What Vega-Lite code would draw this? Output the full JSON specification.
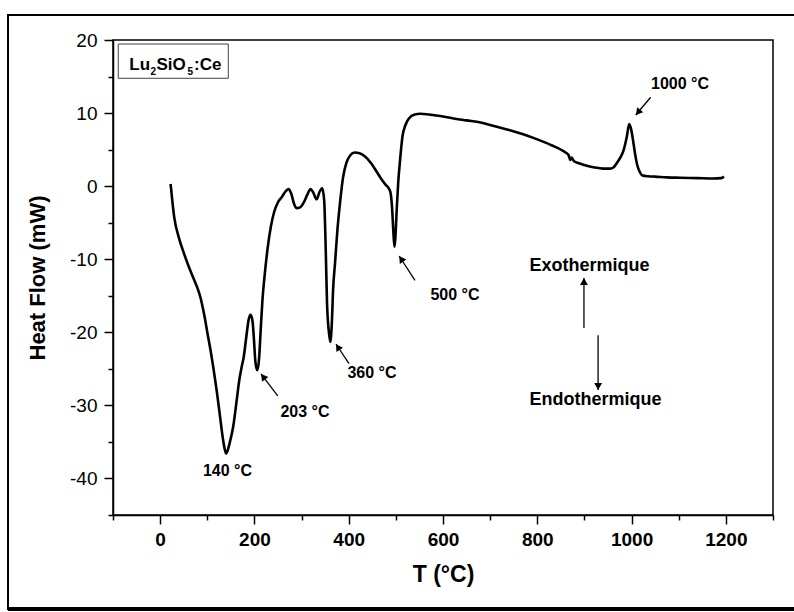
{
  "$schema": "https://vega.github.io/schema/vega-lite/v6.json",
  "width": 660,
  "height": 475,
  "autosize": {"type": "none"},
  "padding": {"left": 113, "top": 40, "right": 21, "bottom": 97},
  "background": "white",
  "config": {"view": {"stroke": "black", "strokeWidth": 1.5}, "font": "Liberation Sans"},
  "resolve": {"axis": {"x": "independent", "y": "independent"}},
  "datasets": {
    "curve": [
      {"T": 22, "H": 0.3}, {"T": 23, "H": -0.2}, {"T": 25, "H": -1.5}, {"T": 30, "H": -4.3}, {"T": 40, "H": -7.1},
      {"T": 50, "H": -9.1}, {"T": 60, "H": -10.9}, {"T": 70, "H": -12.5}, {"T": 80, "H": -14.1}, {"T": 85, "H": -15.1},
      {"T": 90, "H": -16.5}, {"T": 95, "H": -18.1}, {"T": 100, "H": -20}, {"T": 107, "H": -22.5}, {"T": 113, "H": -24.9}, {"T": 120, "H": -28},
      {"T": 127, "H": -31.5}, {"T": 133, "H": -34.5}, {"T": 137, "H": -36}, {"T": 140, "H": -36.6}, {"T": 143, "H": -36.2},
      {"T": 148, "H": -35}, {"T": 155, "H": -32.9}, {"T": 162, "H": -29.5}, {"T": 168, "H": -26.5}, {"T": 173, "H": -24.7},
      {"T": 177, "H": -23.5}, {"T": 183, "H": -20.5}, {"T": 188, "H": -18.2}, {"T": 192, "H": -17.6}, {"T": 196, "H": -18.5},
      {"T": 199, "H": -21}, {"T": 202, "H": -24}, {"T": 206, "H": -25.2}, {"T": 210, "H": -23.5}, {"T": 213, "H": -20},
      {"T": 217, "H": -15.6}, {"T": 222, "H": -12}, {"T": 228, "H": -8.5}, {"T": 235, "H": -5.5}, {"T": 242, "H": -3.5},
      {"T": 250, "H": -2.2}, {"T": 258, "H": -1.5}, {"T": 265, "H": -0.8}, {"T": 272, "H": -0.4}, {"T": 278, "H": -1},
      {"T": 284, "H": -2.4}, {"T": 290, "H": -3}, {"T": 297, "H": -2.9}, {"T": 305, "H": -2.2}, {"T": 312, "H": -1.2},
      {"T": 319, "H": -0.4}, {"T": 325, "H": -0.9}, {"T": 332, "H": -1.8}, {"T": 338, "H": -0.8}, {"T": 344, "H": -0.3},
      {"T": 348, "H": -2}, {"T": 351, "H": -8}, {"T": 354, "H": -16}, {"T": 358, "H": -20}, {"T": 361, "H": -21.3},
      {"T": 364, "H": -19}, {"T": 367, "H": -14}, {"T": 371, "H": -10.5}, {"T": 376, "H": -6}, {"T": 382, "H": -2},
      {"T": 388, "H": 1.2}, {"T": 395, "H": 3.2}, {"T": 403, "H": 4.2}, {"T": 413, "H": 4.6}, {"T": 423, "H": 4.5},
      {"T": 434, "H": 4.1}, {"T": 448, "H": 3.1}, {"T": 460, "H": 1.9}, {"T": 470, "H": 0.9}, {"T": 478, "H": 0.2},
      {"T": 485, "H": -0.3}, {"T": 489, "H": -1}, {"T": 492, "H": -3}, {"T": 494.5, "H": -6}, {"T": 497, "H": -8.3},
      {"T": 499, "H": -7}, {"T": 502, "H": -3}, {"T": 505, "H": 0.5}, {"T": 509, "H": 3.6}, {"T": 514, "H": 6.8},
      {"T": 520, "H": 8.3}, {"T": 528, "H": 9.3}, {"T": 540, "H": 9.8}, {"T": 552, "H": 9.9}, {"T": 570, "H": 9.8},
      {"T": 594, "H": 9.6}, {"T": 620, "H": 9.3}, {"T": 650, "H": 9}, {"T": 680, "H": 8.7}, {"T": 710, "H": 8.2},
      {"T": 740, "H": 7.7}, {"T": 770, "H": 7.1}, {"T": 800, "H": 6.4}, {"T": 830, "H": 5.6}, {"T": 860, "H": 4.6},
      {"T": 866, "H": 4.3}, {"T": 870, "H": 3.6}, {"T": 873, "H": 3.9}, {"T": 878, "H": 3.4}, {"T": 890, "H": 3.1},
      {"T": 905, "H": 2.8}, {"T": 919, "H": 2.6}, {"T": 940, "H": 2.4}, {"T": 954, "H": 2.4}, {"T": 962, "H": 2.6},
      {"T": 968, "H": 3.1}, {"T": 976, "H": 3.9}, {"T": 983, "H": 4.9}, {"T": 990, "H": 6.8}, {"T": 995, "H": 8.5},
      {"T": 999, "H": 7.8}, {"T": 1004, "H": 5.9}, {"T": 1008, "H": 4.2}, {"T": 1012, "H": 2.9}, {"T": 1017, "H": 2.0},
      {"T": 1022, "H": 1.5}, {"T": 1035, "H": 1.35}, {"T": 1050, "H": 1.3}, {"T": 1075, "H": 1.2}, {"T": 1103, "H": 1.15},
      {"T": 1140, "H": 1.1}, {"T": 1173, "H": 1.05}, {"T": 1190, "H": 1.1}, {"T": 1196, "H": 1.3}
    ],
    "arrows": [
      {"x0": 249.4, "y0": -28.7, "x1": 214, "y1": -25.7, "hx": 218.5, "hy": -26.08, "angle": -37},
      {"x0": 400.6, "y0": -24.3, "x1": 373, "y1": -21.6, "hx": 377.0, "hy": -22.01, "angle": -33},
      {"x0": 540.6, "y0": -12.9, "x1": 507, "y1": -9.56, "hx": 511.2, "hy": -9.95, "angle": -34.5},
      {"x0": 1040.6, "y0": 12.16, "x1": 1008.8, "y1": 9.74, "hx": 1013.7, "hy": 10.1, "angle": 220},
      {"x0": 899, "y0": -19.4, "x1": 899, "y1": -12.57, "hx": 899, "hy": -13.05, "angle": 0},
      {"x0": 929, "y0": -20.4, "x1": 929, "y1": -27.9, "hx": 929, "hy": -27.42, "angle": 180}
    ],
    "labels": [
      {"x": 142.9, "y": -38.98, "text": "140 °C"},
      {"x": 307.3, "y": -30.9, "text": "203 °C"},
      {"x": 449.4, "y": -25.6, "text": "360 °C"},
      {"x": 625.5, "y": -14.9, "text": "500 °C"},
      {"x": 1102.8, "y": 13.98, "text": "1000 °C"}
    ],
    "biglabels": [
      {"x": 910.8, "y": -10.86, "text": "Exothermique"},
      {"x": 923.5, "y": -29.26, "text": "Endothermique"}
    ],
    "formula": [
      {"x": -65.4, "y": 15.89, "text": "Lu"},
      {"x": -7.7, "y": 15.89, "text": "SiO"},
      {"x": 71.8, "y": 15.89, "text": ":Ce"}
    ],
    "subs": [
      {"x": -20.4, "y": 15.21, "text": "2"},
      {"x": 58.0, "y": 15.21, "text": "5"}
    ],
    "box": [{"x": -88.8, "x2": 144.6, "y": 19.45, "y2": 14.76}],
    "frame": [{"x": -322.7, "x2": 1400, "y": 23.42, "y2": -57.86}]
  },
  "layer": [
    {
      "data": {"name": "frame"},
      "mark": {"type": "rect", "fill": null, "fillOpacity": 0, "stroke": "black", "strokeWidth": 2, "clip": false},
      "encoding": {
        "x": {"field": "x", "type": "quantitative", "scale": {"domain": [-100, 1300], "nice": false, "zero": false},
          "axis": {"orient": "bottom", "values": [-100, 100, 300, 500, 700, 900, 1100, 1300], "labels": false, "title": null, "domain": false, "grid": false, "tickSize": 5, "tickWidth": 1.5, "tickColor": "black"}},
        "x2": {"field": "x2"},
        "y": {"field": "y", "type": "quantitative", "scale": {"domain": [-45, 20], "nice": false, "zero": false},
          "axis": {"orient": "left", "values": [-45, -35, -25, -15, -5, 5, 15], "labels": false, "title": null, "domain": false, "grid": false, "tickSize": 5, "tickWidth": 1.5, "tickColor": "black"}},
        "y2": {"field": "y2"}
      }
    },
    {
      "data": {"name": "frame"},
      "mark": {"type": "rule", "stroke": "black", "strokeWidth": 4, "clip": false},
      "encoding": {
        "x": {"field": "x", "type": "quantitative", "axis": null},
        "x2": {"field": "x2"},
        "y": {"field": "y2", "type": "quantitative", "axis": null}
      }
    },
    {
      "data": {"name": "curve"},
      "mark": {"type": "line", "stroke": "black", "strokeWidth": 2.6, "interpolate": "monotone"},
      "encoding": {
        "x": {
          "field": "T", "type": "quantitative",
          "scale": {"domain": [-100, 1300], "nice": false, "zero": false},
          "axis": {
            "orient": "bottom",
            "values": [0, 200, 400, 600, 800, 1000, 1200],
            "labelExpr": "'' + datum.value",
            "tickSize": 9,
            "tickWidth": 1.5, "tickColor": "black", "domainColor": "black", "domainWidth": 1.5,
            "grid": false, "labelFlush": false, "labelOverlap": false,
            "labelFont": "Liberation Sans", "labelFontSize": 19, "labelFontWeight": "bold", "labelColor": "black", "labelPadding": 6,
            "title": "T (°C)", "titleFont": "Liberation Sans", "titleFontSize": 23, "titleFontWeight": "bold", "titleColor": "black", "titlePadding": 14
          }
        },
        "y": {
          "field": "H", "type": "quantitative",
          "scale": {"domain": [-45, 20], "nice": false, "zero": false},
          "axis": {
            "orient": "left",
            "values": [-40, -30, -20, -10, 0, 10, 20],
            "labelExpr": "'' + datum.value",
            "tickSize": 9,
            "tickWidth": 1.5, "tickColor": "black", "domainColor": "black", "domainWidth": 1.5,
            "grid": false, "labelOverlap": false, "labelFlush": false,
            "labelFont": "Liberation Sans", "labelFontSize": 19, "labelColor": "black", "labelPadding": 7,
            "title": "Heat Flow (mW)", "titleFont": "Liberation Sans", "titleFontSize": 22, "titleFontWeight": "bold", "titleColor": "black", "titlePadding": 20
          }
        }
      }
    },
    {
      "data": {"name": "arrows"},
      "mark": {"type": "rule", "color": "black", "strokeWidth": 1.3},
      "encoding": {
        "x": {"field": "x0", "type": "quantitative", "axis": null},
        "y": {"field": "y0", "type": "quantitative", "axis": null},
        "x2": {"field": "x1"},
        "y2": {"field": "y1"}
      }
    },
    {
      "data": {"name": "arrows"},
      "mark": {"type": "point", "shape": "triangle-up", "filled": true, "color": "black", "size": 62, "opacity": 1},
      "encoding": {
        "x": {"field": "hx", "type": "quantitative", "axis": null},
        "y": {"field": "hy", "type": "quantitative", "axis": null},
        "angle": {"field": "angle", "type": "quantitative", "scale": null}
      }
    },
    {
      "data": {"name": "box"},
      "mark": {"type": "rect", "fill": null, "fillOpacity": 0, "stroke": "#444444", "strokeWidth": 1},
      "encoding": {
        "x": {"field": "x", "type": "quantitative", "axis": null},
        "x2": {"field": "x2"},
        "y": {"field": "y", "type": "quantitative", "axis": null},
        "y2": {"field": "y2"}
      }
    },
    {
      "data": {"name": "labels"},
      "mark": {"type": "text", "font": "Liberation Sans", "fontSize": 16, "fontWeight": "bold", "fill": "black", "align": "center", "baseline": "middle"},
      "encoding": {
        "x": {"field": "x", "type": "quantitative", "axis": null},
        "y": {"field": "y", "type": "quantitative", "axis": null},
        "text": {"field": "text"}
      }
    },
    {
      "data": {"name": "biglabels"},
      "mark": {"type": "text", "font": "Liberation Sans", "fontSize": 18, "fontWeight": "bold", "fill": "black", "align": "center", "baseline": "middle"},
      "encoding": {
        "x": {"field": "x", "type": "quantitative", "axis": null},
        "y": {"field": "y", "type": "quantitative", "axis": null},
        "text": {"field": "text"}
      }
    },
    {
      "data": {"name": "formula"},
      "mark": {"type": "text", "font": "Liberation Sans", "fontSize": 17, "fontWeight": "bold", "fill": "black", "align": "left", "baseline": "alphabetic"},
      "encoding": {
        "x": {"field": "x", "type": "quantitative", "axis": null},
        "y": {"field": "y", "type": "quantitative", "axis": null},
        "text": {"field": "text"}
      }
    },
    {
      "data": {"name": "subs"},
      "mark": {"type": "text", "font": "Liberation Sans", "fontSize": 10, "fontWeight": "bold", "fill": "black", "align": "left", "baseline": "alphabetic"},
      "encoding": {
        "x": {"field": "x", "type": "quantitative", "axis": null},
        "y": {"field": "y", "type": "quantitative", "axis": null},
        "text": {"field": "text"}
      }
    }
  ]
}
